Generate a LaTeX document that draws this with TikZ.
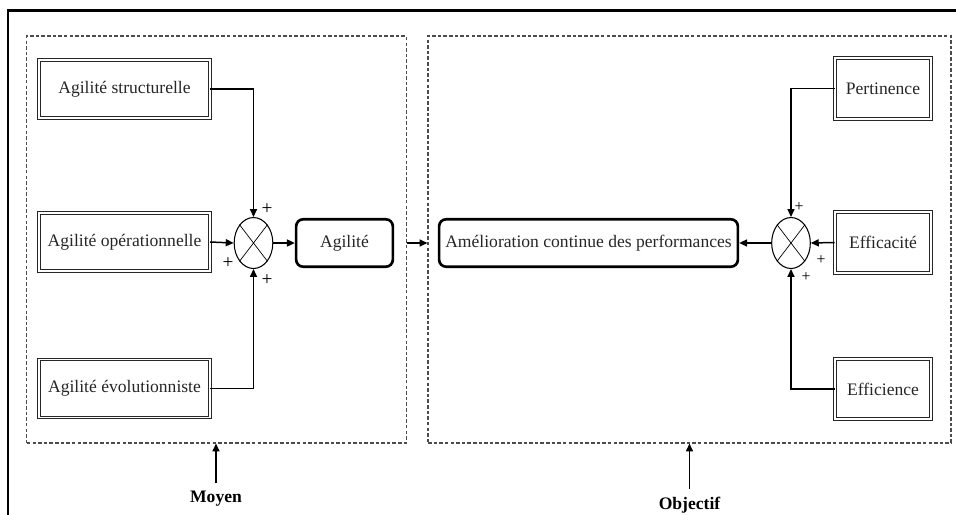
\documentclass[tikz,border=0pt]{standalone}
\usepackage{fontspec}
\setmainfont{Liberation Serif}
\usepackage{tikz}
\usetikzlibrary{shapes.geometric,arrows.meta}

\begin{document}
\begin{tikzpicture}[scale=0.2,
  font=\fontsize{10}{12}\selectfont,
  bloc/.style={draw=black!85, double, double distance=1.1pt, line width=0.55pt, minimum width=97pt, minimum height=33pt, inner sep=0pt, text=black!85},
  etat/.style={draw=black, rounded corners=4pt, line width=1.5pt, minimum height=27pt, inner sep=0pt, text=black!85},
  somme/.style={draw=black, ellipse, minimum width=22pt, minimum height=29pt, inner sep=0pt, line width=0.6pt},
  cadre/.style={draw=black!70, dash pattern=on 2pt off 1.2pt, line width=0.6pt, minimum height=231.6pt, inner sep=0pt},
  signe/.style={inner sep=0pt, font=\fontsize{11}{12}\selectfont},
  fleche/.style={-{Triangle[length=4.5pt,width=4pt]}, line width=0.85pt}]
\useasboundingbox (0,0) rectangle (95.6,-51.4);
\draw [black, line width=1.4pt] (0.8,-51.6) -- (0.8,-1.05) -- (95.8,-1.05);
\node [cadre, minimum width=215.7pt] (cadreMoyen) at (21.65,-23.95) {};
\node [cadre, minimum width=297.6pt] (cadreObjectif) at (68.95,-23.95) {};
\node [bloc] (structurelle) at (12.45,-8.9) {Agilité structurelle};
\node [bloc] (operationnelle) at (12.45,-24.2) {Agilité opérationnelle};
\node [bloc] (evolutionniste) at (12.45,-38.85) {Agilité évolutionniste};
\node [somme] (sommeA) at (25.35,-24.3) {};
\draw [black] (sommeA.north west) -- (sommeA.south east);
\draw [black] (sommeA.north east) -- (sommeA.south west);
\node [etat, minimum width=55pt] (agilite) at (34.45,-24.3) {Agilité};
\node [etat, minimum width=170pt] (amelioration) at (58.85,-24.3) {Amélioration continue des performances};
\node [somme] (sommeB) at (79.1,-24.3) {};
\draw [black] (sommeB.north west) -- (sommeB.south east);
\draw [black] (sommeB.north east) -- (sommeB.south west);
\node [bloc, minimum width=54.6pt, minimum height=34.5pt] (pertinence) at (88.3,-8.85) {Pertinence};
\node [bloc, minimum width=54.6pt, minimum height=34.5pt] (efficacite) at (88.3,-24.25) {Efficacité};
\node [bloc, minimum width=54.6pt, minimum height=34.5pt] (efficience) at (88.3,-38.9) {Efficience};
\node [signe] (plusA1) at (26.7,-20.9) {+};
\node [signe] (plusA2) at (22.8,-26.3) {+};
\node [signe] (plusA3) at (26.7,-28.0) {+};
\node [signe, font=\fontsize{9}{10}\selectfont] (plusB1) at (79.9,-20.7) {+};
\node [signe, font=\fontsize{9}{10}\selectfont] (plusB2) at (82.1,-26.0) {+};
\node [signe, font=\fontsize{9}{10}\selectfont] (plusB3) at (80.6,-27.7) {+};
\draw [fleche] (structurelle.east) -| (sommeA.north);
\draw [fleche] (operationnelle.east) -- (sommeA.west);
\draw [fleche] (evolutionniste.east) -| (sommeA.south);
\draw [fleche] (sommeA.east) -- (agilite.west);
\draw [fleche] (cadreMoyen.east |- agilite.east) -- (cadreObjectif.west |- agilite.east);
\draw [fleche] (pertinence.west) -| (sommeB.north);
\draw [fleche] (efficacite.west) -- (sommeB.east);
\draw [fleche] (efficience.west) -| (sommeB.south);
\draw [fleche] (sommeB.west) -- (amelioration.east);
\node [font=\fontsize{10}{12}\selectfont\bfseries] (moyen) at (21.6,-49.9) {Moyen};
\node [font=\fontsize{10}{12}\selectfont\bfseries] (objectif) at (68.95,-50.5) {Objectif};
\draw [fleche] ([yshift=5pt]moyen.north) -- (moyen.north |- cadreMoyen.south);
\draw [fleche] ([yshift=5pt]objectif.north) -- (objectif.north |- cadreObjectif.south);
\end{tikzpicture}
\end{document}
